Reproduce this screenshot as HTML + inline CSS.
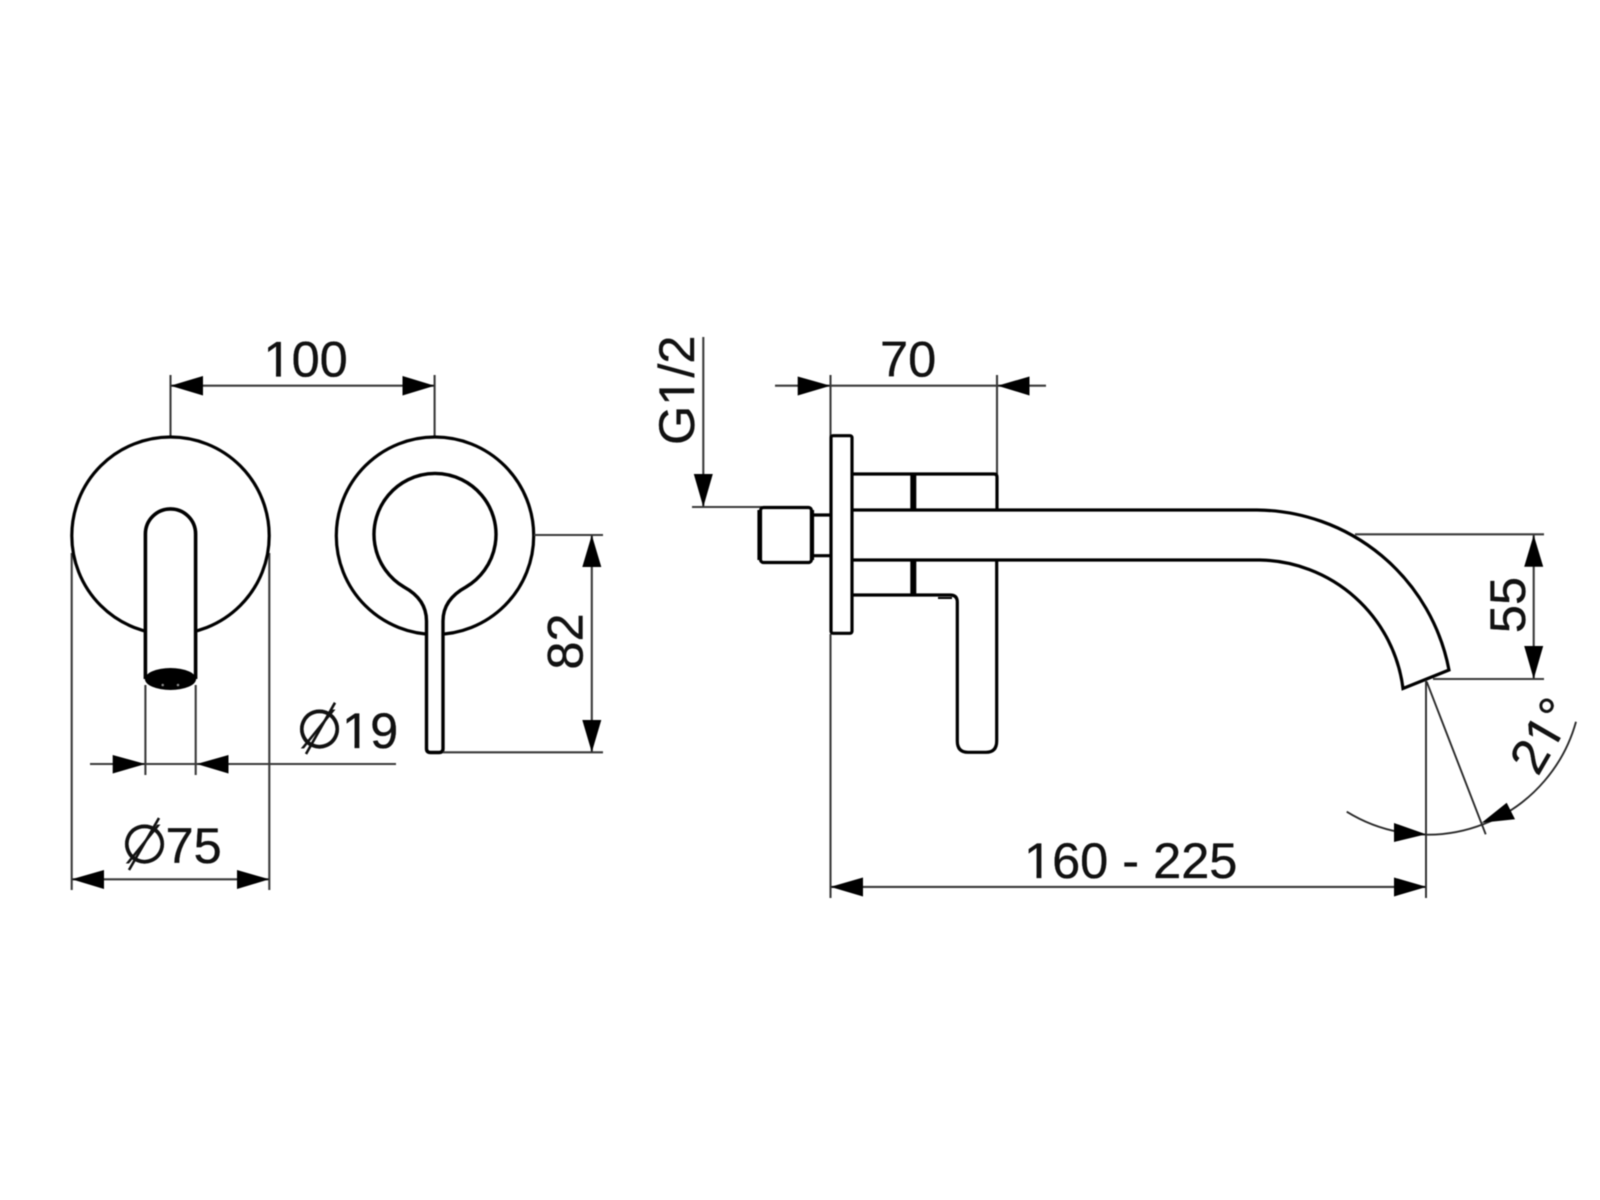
<!DOCTYPE html>
<html><head><meta charset="utf-8"><style>
html,body{margin:0;padding:0;background:#fff}
svg{display:block;filter:blur(.45px)}
text{font-family:"Liberation Sans",sans-serif;font-size:50.5px;fill:#111;stroke:#111;stroke-width:.35}
text.p{font-family:"DejaVu Sans",sans-serif;font-size:54px}
.o{fill:none;stroke:#000;stroke-width:3.2}
.d{fill:none;stroke:#3a3a3a;stroke-width:2.1}
.t{fill:none;stroke:#2a2a2a;stroke-width:1.9}
.a{fill:#000;stroke:none}
.w{fill:#fff;stroke:none}
</style></head><body>
<svg width="1600" height="1200" viewBox="0 0 1600 1200" xmlns="http://www.w3.org/2000/svg">
<rect width="1600" height="1200" fill="#fff"/>
<!-- dimension lines left -->
<path class="d" d="M170.5 375V437M434.6 375V437M170.5 385.7H434.6"/>
<polygon class="a" points="170.5,385.7 203,376 203,395.5"/>
<polygon class="a" points="434.6,385.7 402.5,376 402.5,395.5"/>
<path class="d" d="M71.7 553V890M269.3 553V890M71.7 879.3H269.3"/>
<polygon class="a" points="71.7,879.3 104,870 104,889"/>
<polygon class="a" points="269.3,879.3 237,870 237,889"/>
<path class="d" d="M145.4 685V775M195.7 685V775M90 764H396"/>
<polygon class="a" points="145.4,764 112.7,755 112.7,773.5"/>
<polygon class="a" points="196.7,764 228.5,755 228.5,773.5"/>
<!-- left view -->
<circle class="o" cx="170.5" cy="535.7" r="98.7" style="fill:#fff"/>
<path class="o" style="fill:#fff;stroke-width:3.6" d="M145.4 679V534A25.1 25.1 0 0 1 195.6 534V679"/>
<ellipse cx="170.5" cy="679" rx="25.6" ry="11" fill="#000"/>
<circle cx="162.7" cy="685" r="1.3" fill="#888"/><circle cx="178" cy="685" r="1.3" fill="#888"/>
<!-- lever view -->
<circle class="o" cx="435" cy="535.7" r="98.7" style="fill:#fff"/>
<path class="o" style="fill:#fff;stroke-width:3.4" d="M426.5 748.5V621C426.5 603 415 593 404 587A61 61 0 1 1 466 587C455 593 443 603 443 621V748.5Q443 752.5 439 752.5H430.5Q426.5 752.5 426.5 748.5Z"/>
<!-- dim 82 -->
<path class="d" d="M534 535H603M443 752.3H603M591.8 535V752.3"/>
<polygon class="a" points="591.8,535 582.3,567 601.3,567"/>
<polygon class="a" points="591.8,752.3 582.3,720 601.3,720"/>
<!-- side view dims -->
<path class="d" d="M703.3 337V507M692 507H762"/>
<polygon class="a" points="703.3,507 693.8,474 712.8,474"/>
<path class="d" d="M830.5 375V437M997 375V474M775 385.7H1046"/>
<polygon class="a" points="830.5,385.7 797.7,376.5 797.7,395.5"/>
<polygon class="a" points="997.5,385.7 1029.5,376.5 1029.5,395.5"/>
<path class="d" d="M830.5 634V898M830.5 886.9H1426"/>
<polygon class="a" points="830.5,886.9 863,877.5 863,896.5"/>
<polygon class="a" points="1426.5,886.9 1394,877.5 1394,896.5"/>
<!-- side view body -->
<path class="o" d="M813 515H831M813 555.7H831"/>
<rect class="o" x="760.5" y="507.5" width="51" height="55" rx="3"/>
<path class="o" style="stroke-width:4.2" d="M759.5 510V560M812 510V560"/>
<rect class="o" x="831" y="435.7" width="21" height="197.6" rx="2"/>
<path class="o" d="M852 474H994Q997 474 997 477V510"/>
<path class="o" style="stroke-width:6" d="M913.3 475V509M913.3 560V595"/>
<path class="o" d="M852 510H1257A197 197 0 0 1 1449 670L1403 688.5A147 147 0 0 0 1260 560H852"/>
<path class="o" d="M852 595H950Q957.3 595 957.3 602V741Q957.3 752.3 968 752.3H986Q996.7 752.3 996.7 741V560"/>
<path class="o" style="stroke-width:2" d="M938 598H952"/>
<!-- dim 55 and angle -->
<path class="d" d="M1355 534.3H1544M1433 679H1544M1533.7 534.3V679"/>
<polygon class="a" points="1533.7,535 1524.2,566.7 1543.2,566.7"/>
<polygon class="a" points="1533.7,679 1524.2,646 1543.2,646"/>
<path class="t" d="M1426 680V898M1426.7 681.7L1485.7 834.3"/>
<path class="t" d="M1346.7 811.7A154 154 0 0 0 1576 721.7"/>
<polygon class="a" points="1426,834.3 1394,823 1394,842"/>
<polygon class="a" points="1481.7,822.7 1506.7,802.7 1515,819.3"/>
<!-- text -->
<text x="263.5" y="376.7">100</text>
<rect class="w" x="266" y="372.4" width="10" height="6"/><rect class="w" x="280.9" y="372.4" width="10" height="6"/>
<text x="880" y="376.5">70</text>
<text x="1024" y="878">160 - 225</text>
<rect class="w" x="1026.5" y="873.7" width="10" height="6"/><rect class="w" x="1041.4" y="873.7" width="10" height="6"/>
<text class="p" x="296" y="748">∅</text>
<text x="342" y="748">19</text>
<rect class="w" x="344.5" y="743.7" width="10" height="6"/><rect class="w" x="359.4" y="743.7" width="10" height="6"/>
<text class="p" x="121" y="863">∅</text>
<text x="165.5" y="863">75</text>
<path fill="none" stroke="#111" stroke-width="2.6" d="M335 702.7L306 754M159 818L129 870"/>
<text transform="translate(582.5 641.5) rotate(-90)" text-anchor="middle">82</text>
<text transform="translate(1525 605) rotate(-90)" text-anchor="middle">55</text>
<g transform="translate(694 445) rotate(-90)">
<text x="0" y="0">G1/2</text>
<rect class="w" x="41.8" y="-4.3" width="10" height="6"/><rect class="w" x="56.7" y="-4.3" width="10" height="6"/>
</g>
<g transform="translate(1557 744.2) rotate(-60)">
<text x="-38.2" y="0">21°</text>
<rect class="w" x="-7.6" y="-4.3" width="10" height="6"/><rect class="w" x="7.3" y="-4.3" width="10" height="6"/>
</g>
</svg>
</body></html>
